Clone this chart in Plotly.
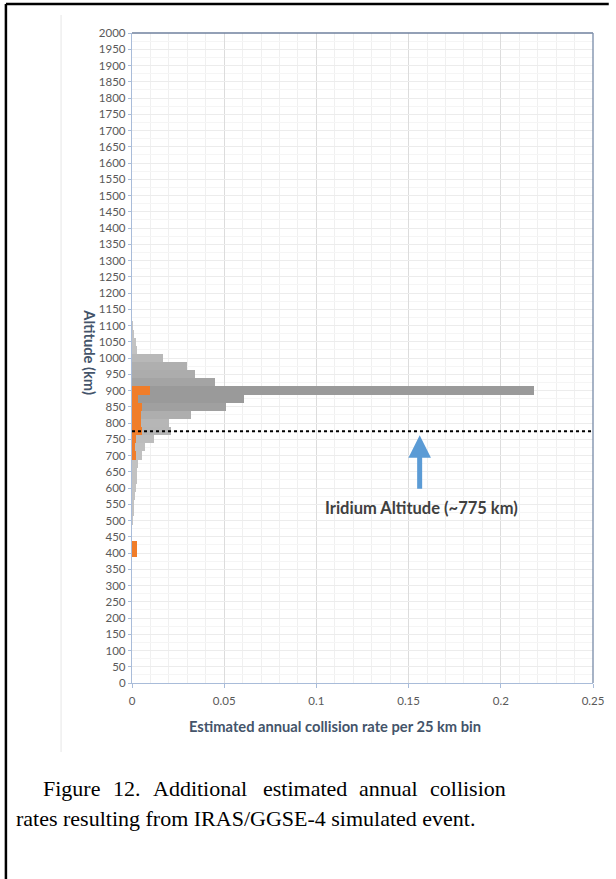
import plotly.graph_objects as go

# ---- data ----
alt_bins = [1100, 1075, 1050, 1025, 1000, 975, 950, 925, 900, 875, 850, 825, 800,
            775, 750, 725, 700, 675, 650, 625, 600, 575, 550, 525, 500]
gray_rate = [0.0005, 0.001, 0.002, 0.0025, 0.0167, 0.030, 0.034, 0.045, 0.218, 0.061,
             0.051, 0.032, 0.020, 0.021, 0.012, 0.0068, 0.0055, 0.0032, 0.0028, 0.0025,
             0.002, 0.0016, 0.0012, 0.0008, 0.0005]

orange_bins = [900, 875, 850, 825, 800, 775, 750, 725, 700, 425, 400]
orange_rate = [0.0096, 0.003, 0.0052, 0.005, 0.005, 0.0052, 0.002, 0.0015, 0.002,
               0.0028, 0.0028]

iridium_alt = 775
x_ticks = [0, 0.05, 0.1, 0.15, 0.2, 0.25]
y_ticks = list(range(0, 2001, 50))

caption_line1 = ["Figure", "12.", "Additional", "estimated", "annual", "collision"]
caption_line2 = "rates resulting from IRAS/GGSE-4 simulated event."

# ---- styling ----
W, H = 616, 879
L, R, T, B = 132, 16, 33, 196
pw, ph = W - L - R, H - T - B


def px_x(p):
    return (p - L) / pw


def px_y(p):
    return (H - B - p) / ph


def gray_for(v):
    g = int(round(196 - 42 * min(v / 0.06, 1.0)))
    return f"rgb({g},{g},{g})"


fig = go.Figure()
fig.add_trace(go.Bar(
    y=alt_bins, x=gray_rate, orientation="h", width=25,
    marker=dict(color=[gray_for(v) for v in gray_rate], line=dict(width=0)),
    showlegend=False, hoverinfo="x+y"))
fig.add_trace(go.Bar(
    y=orange_bins, x=orange_rate, orientation="h", width=25,
    marker=dict(color="#F07D2A", line=dict(width=0)),
    showlegend=False, hoverinfo="x+y"))

# Iridium dotted line
fig.add_shape(type="line", xref="x", yref="y", x0=0, x1=0.25,
              y0=iridium_alt, y1=iridium_alt,
              line=dict(color="black", width=2, dash="dot"), layer="above")

# arrow + label
fig.add_annotation(x=0.156, y=762, xref="x", yref="y",
                   ax=0.156, ay=593, axref="x", ayref="y",
                   showarrow=True, arrowhead=2, arrowsize=0.9, arrowwidth=5,
                   arrowcolor="#5B9BD5", text="")
fig.add_annotation(x=0.157, y=540, xref="x", yref="y", showarrow=False,
                   text="<b>Iridium Altitude (~775 km)</b>",
                   font=dict(family="Lato", size=16.5, color="#404040"))

# axis titles
title_font = dict(family="Lato", size=14.7, color="#44546A")
fig.add_annotation(x=px_x(78), y=px_y(352), xref="paper", yref="paper",
                   showarrow=False, textangle=90,
                   text="<b>Altitude (km)</b>", font=title_font)
fig.add_annotation(x=px_x(338), y=px_y(737), xref="paper", yref="paper",
                   showarrow=False,
                   text="<b>Estimated annual collision rate per 25 km bin</b>",
                   font=title_font)

# plot-area top and right border (darker than the axis lines)
fig.add_shape(type="line", xref="paper", yref="paper", x0=0, x1=1, y0=1, y1=1,
              line=dict(color="#6F819E", width=1.6), layer="above")
fig.add_shape(type="line", xref="paper", yref="paper", x0=1, x1=1, y0=0, y1=1,
              line=dict(color="#8193AE", width=1.4), layer="above")

# faint chart-area line
fig.add_shape(type="line", xref="paper", yref="paper",
              x0=px_x(60), x1=px_x(60), y0=px_y(15), y1=px_y(752),
              line=dict(color="#e6e6e6", width=1))

# outer frame (left and top edges only)
fig.add_shape(type="line", xref="paper", yref="paper",
              x0=px_x(4), x1=px_x(616), y0=px_y(4), y1=px_y(4),
              line=dict(color="black", width=2.5))
fig.add_shape(type="line", xref="paper", yref="paper",
              x0=px_x(4), x1=px_x(4), y0=px_y(4), y1=px_y(879),
              line=dict(color="black", width=2.5))

# caption (line 1 justified between x=40 and x=508)
cap_size = 22
cap_font = dict(family="Liberation Serif", size=cap_size, color="black")
em = {"Figure": 2.611, "12.": 1.25, "Additional": 4.478, "estimated": 3.833,
      "annual": 2.666, "collision": 3.445}
widths = [em[w] * cap_size for w in caption_line1]
gap = (508 - 40 - sum(widths)) / (len(caption_line1) - 1)
xpos = 40
for w, wd in zip(caption_line1, widths):
    fig.add_annotation(x=px_x(xpos), y=px_y(788), xref="paper", yref="paper",
                       xanchor="left", yanchor="middle", showarrow=False,
                       text=w, font=cap_font)
    xpos += wd + gap
fig.add_annotation(x=px_x(12), y=px_y(818), xref="paper", yref="paper",
                   xanchor="left", yanchor="middle", showarrow=False,
                   text=caption_line2, font=cap_font)

axis_col = "#A9BCD9"
tick_font = dict(family="Lato", size=11.5, color="#595959")

fig.update_layout(
    width=W, height=H,
    margin=dict(l=L, r=R, t=T, b=B),
    paper_bgcolor="white", plot_bgcolor="white",
    barmode="overlay", bargap=0,
    xaxis=dict(range=[0, 0.25], tickvals=x_ticks, ticks="outside", ticklen=4,
               tickcolor=axis_col, showline=True, linecolor=axis_col, linewidth=1.3,
               showgrid=True, gridcolor="#dcdcdc", gridwidth=1,
               zeroline=False, tickfont=tick_font, ticklabelstandoff=3,
               minor=dict(dtick=0.01, showgrid=True, gridcolor="#f0f0f0")),
    yaxis=dict(range=[0, 2000], tickvals=y_ticks, ticks="outside", ticklen=3,
               tickcolor=axis_col, showline=True, linecolor=axis_col, linewidth=1.3,
               showgrid=True, gridcolor="#ececec", gridwidth=1,
               zeroline=False, tickfont=tick_font,
               minor=dict(dtick=25, showgrid=True, gridcolor="#f5f5f5")),
)

fig.write_html("out.html")
